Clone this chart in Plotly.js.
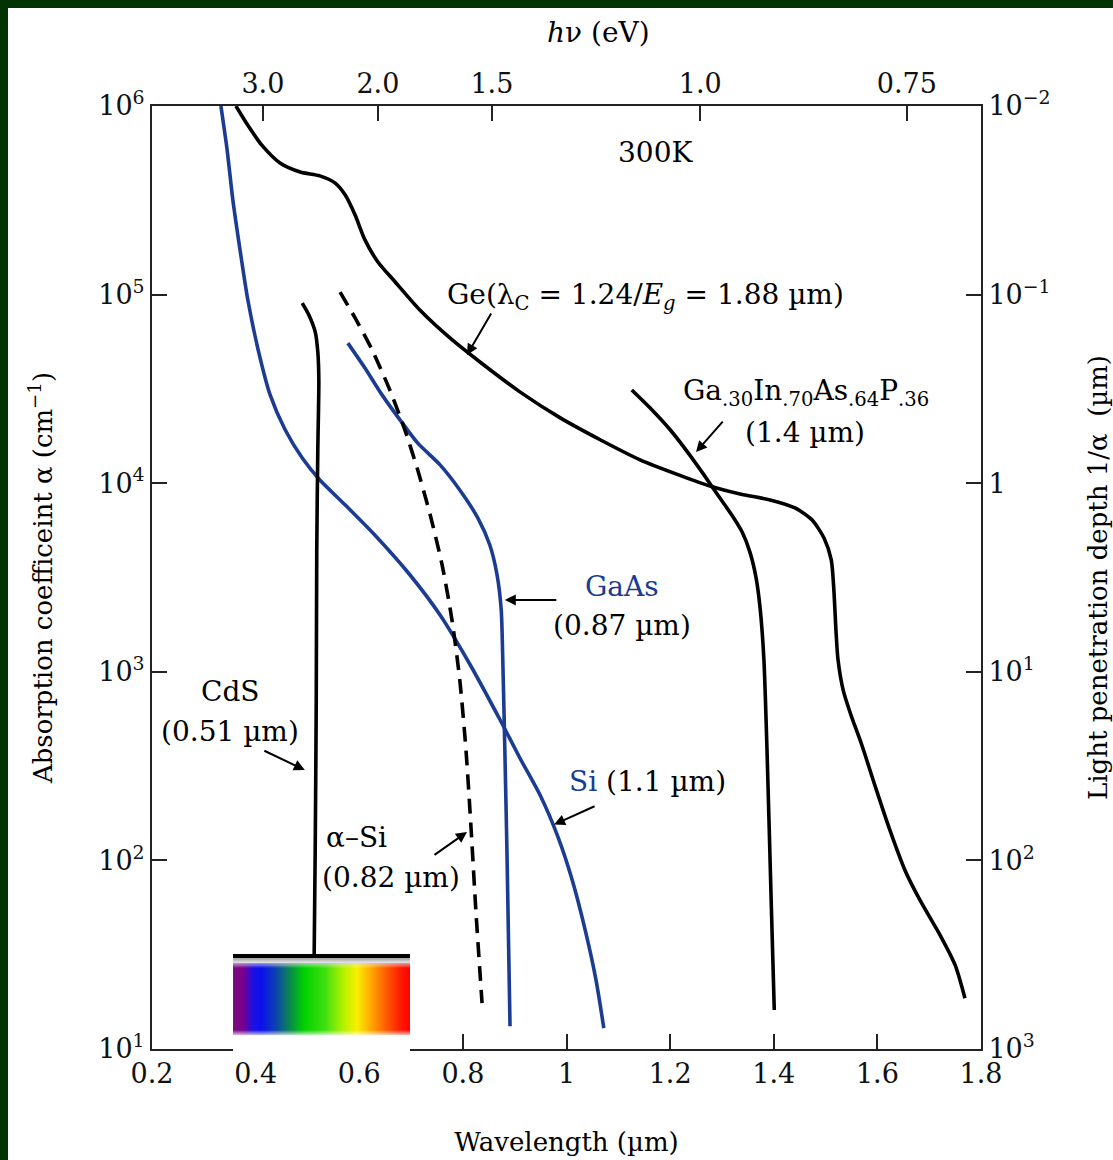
<!DOCTYPE html>
<html>
<head>
<meta charset="utf-8">
<script src="https://cdn.plot.ly/plotly-3.0.1.min.js"></script>
<style>
html,body{margin:0;padding:0;background:#023302;width:1113px;height:1160px;overflow:hidden;}
#plot{position:absolute;left:8px;top:8px;width:1105px;height:1152px;background:#fff;}
</style>
</head>
<body>
<div id="plot"></div>
<script>
// ---- data (wavelength in µm, alpha in cm^-1) ----
const geWl   = [0.362,0.385,0.412,0.447,0.486,0.524,0.553,0.573,0.592,0.611,0.636,0.669,0.717,0.775,0.833,0.910,0.988,1.065,1.142,1.219,1.277,1.335,1.393,1.441,1.474,1.497,1.511,1.516,1.520,1.524,1.534,1.549,1.570,1.595,1.624,1.653,1.682,1.721,1.750,1.769];
const geA    = [1.0e6,7.9e5,6.2e5,4.99e5,4.47e5,4.26e5,3.91e5,3.37e5,2.64e5,1.95e5,1.49e5,1.17e5,8.28e4,5.89e4,4.39e4,3.05e4,2.22e4,1.70e4,1.33e4,1.10e4,9.66e3,8.77e3,8.15e3,7.39e3,6.38e3,5.12e3,3.92e3,2.72e3,1.67e3,1.16e3,8.0e2,5.9e2,4.09e2,2.51e2,1.45e2,8.9e1,6.17e1,4.02e1,2.79e1,1.86e1];
const gipWl  = [1.126,1.161,1.200,1.238,1.266,1.292,1.319,1.339,1.354,1.366,1.374,1.381,1.387,1.395,1.401];
const gipA   = [3.12e4,2.51e4,1.92e4,1.41e4,1.10e4,8.65e3,6.78e3,5.51e3,4.31e3,3.14e3,2.13e3,1.16e3,3.85e2,6.17e1,1.61e1];
const siWl   = [0.333,0.345,0.356,0.370,0.385,0.405,0.428,0.457,0.490,0.524,0.573,0.630,0.698,0.756,0.814,0.872,0.910,0.949,0.984,1.011,1.036,1.057,1.072];
const siA    = [1.0e6,5.85e5,3.18e5,1.72e5,9.36e4,5.08e4,2.94e4,1.92e4,1.36e4,1.04e4,7.66e3,5.31e3,3.26e3,2.00e3,1.09e3,5.55e2,3.49e2,2.22e2,1.32e2,7.87e1,4.28e1,2.32e1,1.29e1];
const gaasWl = [0.578,0.611,0.644,0.679,0.713,0.756,0.794,0.829,0.852,0.866,0.874,0.877,0.881,0.885,0.891];
const gaasA  = [5.53e4,4.08e4,2.94e4,2.16e4,1.63e4,1.25e4,9.2e3,6.53e3,4.70e3,3.26e3,2.13e3,1.16e3,3.85e2,1.14e2,1.32e1];
const asiWl  = [0.563,0.592,0.625,0.659,0.688,0.713,0.737,0.760,0.779,0.794,0.806,0.816,0.825,0.837];
const asiA   = [1.03e5,7.52e4,5.08e4,3.12e4,1.92e4,1.17e4,6.78e3,3.68e3,1.88e3,9.06e2,3.85e2,1.45e2,5.46e1,1.75e1];
const cdsWl  = [0.490,0.503,0.515,0.520,0.522,0.520,0.518,0.517,0.515,0.513];
const cdsA   = [9.02e4,7.78e4,6.34e4,4.97e4,3.52e4,1.50e4,4.43e3,7.08e2,1.14e2,3.15e1];

const yTickVals   = [1e1,1e2,1e3,1e4,1e5,1e6];
const yTickText   = ['10<sup>1</sup>','10<sup>2</sup>','10<sup>3</sup>','10<sup>4</sup>','10<sup>5</sup>','10<sup>6</sup>'];
const depthText   = ['10<sup>3</sup>','10<sup>2</sup>','10<sup>1</sup>','1','10<sup>−1</sup>','10<sup>−2</sup>'];
const xTickVals   = [0.2,0.4,0.6,0.8,1.0,1.2,1.4,1.6,1.8];
const xTickText   = ['0.2','0.4','0.6','0.8','1','1.2','1.4','1.6','1.8'];
const evTickPos   = [0.414,0.636,0.856,1.258,1.657];   // wavelength positions of eV ticks in the figure
const evTickText  = ['3.0','2.0','1.5','1.0','0.75'];

const BLUE = '#1b3c92';
const FONT = 'DejaVu Serif, serif';
const FT = 27;   // tick labels
const FA = 28;   // annotations
const FL = 26;   // axis titles

function line(x, y, color, dash){
  return {x:x, y:y, type:'scatter', mode:'lines', hoverinfo:'skip', showlegend:false,
    line:{color:color, width:3.6, shape:'spline', smoothing:0.7, dash:dash||'solid'}, xaxis:'x', yaxis:'y'};
}
const traces = [
  line(geWl, geA, '#000'),
  line(gipWl, gipA, '#000'),
  line(siWl, siA, BLUE),
  line(gaasWl, gaasA, BLUE),
  line(asiWl, asiA, '#000', '15px,9px'),
  line(cdsWl, cdsA, '#000'),
  {x:[1.0], y:[1e3], type:'scatter', mode:'markers', marker:{opacity:0}, hoverinfo:'skip', showlegend:false, xaxis:'x2', yaxis:'y'},
  {x:[1.0], y:[1e3], type:'scatter', mode:'markers', marker:{opacity:0}, hoverinfo:'skip', showlegend:false, xaxis:'x', yaxis:'y2'}
];

// spectrum bar image
function spectrum(){
  const c = document.createElement('canvas');
  c.width = 177; c.height = 100;
  const g = c.getContext('2d');
  g.fillStyle = '#fff'; g.fillRect(0,0,177,100);
  const grad = g.createLinearGradient(0,0,177,0);
  grad.addColorStop(0.00,'#7a0a78');
  grad.addColorStop(0.06,'#780090');
  grad.addColorStop(0.11,'#2010e0');
  grad.addColorStop(0.16,'#0a10f0');
  grad.addColorStop(0.24,'#0c40b0');
  grad.addColorStop(0.32,'#0a8850');
  grad.addColorStop(0.40,'#00d000');
  grad.addColorStop(0.52,'#40e010');
  grad.addColorStop(0.62,'#b0f000');
  grad.addColorStop(0.70,'#f8f000');
  grad.addColorStop(0.77,'#ffb000');
  grad.addColorStop(0.86,'#ff6000');
  grad.addColorStop(0.95,'#ff1800');
  grad.addColorStop(1.00,'#ff0000');
  g.fillStyle = grad; g.fillRect(0,9,177,72);
  const tg = g.createLinearGradient(0,5,0,14);
  tg.addColorStop(0,'rgba(170,170,170,1)'); tg.addColorStop(0.5,'rgba(220,220,230,0.6)'); tg.addColorStop(1,'rgba(255,255,255,0)');
  g.fillStyle = tg; g.fillRect(0,4,177,10);
  const bg = g.createLinearGradient(0,76,0,83);
  bg.addColorStop(0,'rgba(255,255,255,0)'); bg.addColorStop(1,'rgba(255,255,255,1)');
  g.fillStyle = bg; g.fillRect(0,76,177,7);
  g.fillStyle = '#000'; g.fillRect(0,0,177,4);
  return c.toDataURL('image/png');
}

function note(text, x, y, color){
  return {text:text, x:x, y:y, xref:'x', yref:'y', showarrow:false, font:{family:FONT, size:FA, color:color||'#000'}, xanchor:'center', yanchor:'middle'};
}
function arrow(x, y, ax, ay){
  return {text:'', x:x, y:y, xref:'x', yref:'y', ax:ax, ay:ay, showarrow:true, arrowhead:2, arrowsize:1.1, arrowwidth:2, arrowcolor:'#000'};
}
const annotations = [
  {text:'<i>h</i>ν (eV)', x:0.538, y:1.078, xref:'paper', yref:'paper', showarrow:false, font:{family:FONT,size:FA,color:'#000'}, xanchor:'center', yanchor:'middle'},
  note('300K', 1.171, 5.756),
  note('Ge(λ<sub>C</sub> = 1.24/<i>E</i><sub><i>g</i></sub> = 1.88 µm)', 1.152, 4.99),
  arrow(0.808, 4.68, 25, -43),
  note('Ga<sub>.30</sub>In<sub>.70</sub>As<sub>.64</sub>P<sub>.36</sub>', 1.462, 4.48),
  note('(1.4 µm)', 1.460, 4.27),
  arrow(1.250, 4.165, 28, -32),
  note('GaAs', 1.107, 3.45, BLUE),
  note('(0.87 µm)', 1.107, 3.248),
  arrow(0.881, 3.381, 53, 0),
  note('CdS', 0.351, 2.893),
  note('(0.51 µm)', 0.351, 2.686),
  arrow(0.495, 2.479, -42, -20),
  note('α–Si', 0.594, 2.119),
  note('(0.82 µm)', 0.661, 1.912),
  arrow(0.808, 2.151, -34, 24),
  note('<span style="color:'+BLUE+'">Si</span> (1.1 µm)', 1.157, 2.421),
  arrow(0.976, 2.19, 42, -19)
];

const axisCommon = {showgrid:false, zeroline:false, showline:true, linecolor:'#222', linewidth:2,
  ticks:'inside', ticklen:15, tickwidth:2, tickcolor:'#222', tickfont:{family:FONT, size:FT, color:'#111'}};

const layout = {
  width:1105, height:1152,
  margin:{l:144, r:132, t:98, b:111},
  paper_bgcolor:'#fff', plot_bgcolor:'#fff',
  showlegend:false,
  xaxis: Object.assign({}, axisCommon, {range:[0.2,1.8], tickvals:xTickVals, ticktext:xTickText,
    title:{text:'Wavelength (µm)', font:{family:FONT,size:FL,color:'#000'}, standoff:44}}),
  xaxis2: Object.assign({}, axisCommon, {range:[0.2,1.8], overlaying:'x', side:'top', tickvals:evTickPos, ticktext:evTickText, anchor:'y'}),
  yaxis: Object.assign({}, axisCommon, {type:'log', range:[1,6], tickvals:yTickVals, ticktext:yTickText,
    title:{text:'Absorption coefficeint α (cm<sup>−1</sup>)', font:{family:FONT,size:FL,color:'#000'}, standoff:38}}),
  yaxis2: Object.assign({}, axisCommon, {type:'log', range:[1,6], overlaying:'y', side:'right', anchor:'x', tickvals:yTickVals, ticktext:depthText,
    title:{text:'Light penetration depth 1/α  (µm)', font:{family:FONT,size:FL,color:'#000'}, standoff:40}}),
  annotations: annotations,
  images: [{source: spectrum(), xref:'paper', yref:'paper', x:(233-152)/829, y:(1049-954)/943, sizex:177/829, sizey:100/943,
    xanchor:'left', yanchor:'top', sizing:'stretch', layer:'above'}]
};

Plotly.newPlot('plot', traces, layout, {staticPlot:true, displayModeBar:false});
</script>
</body>
</html>
